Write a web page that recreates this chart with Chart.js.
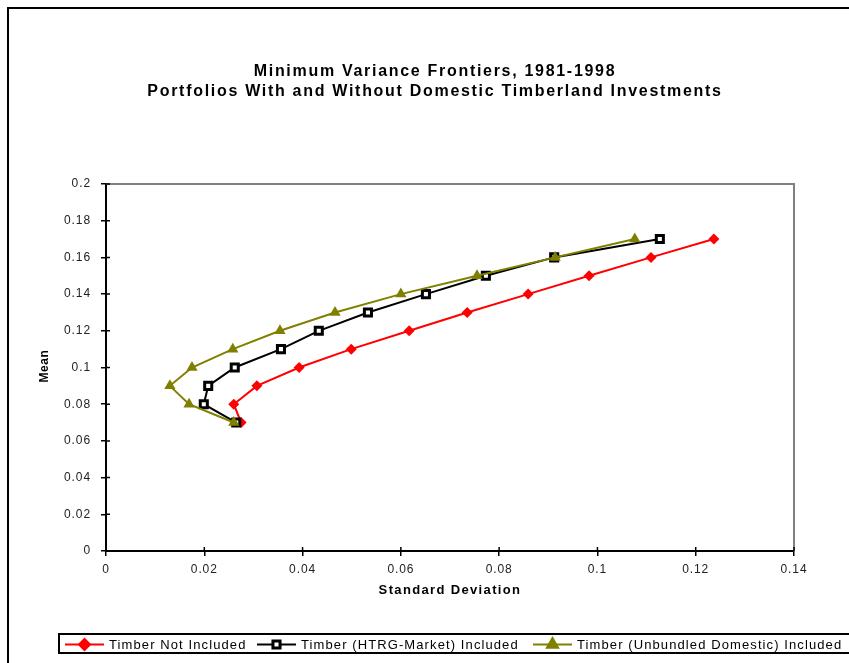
<!DOCTYPE html>
<html>
<head>
<meta charset="utf-8">
<script src="https://cdn.jsdelivr.net/npm/chart.js@4.4.1/dist/chart.umd.min.js"></script>
<style>
  html, body { margin: 0; padding: 0; background: #fff; }
  #wrap { width: 849px; height: 663px; }
</style>
</head>
<body>
<div id="wrap"><canvas id="frontier"></canvas></div>
<script>
// values: standard deviation (x) and mean (y)
const notIncludedSd = [0.0275, 0.026, 0.0307, 0.0393, 0.0499, 0.0617, 0.0735, 0.0859, 0.0983, 0.1109, 0.1237];
const notIncludedMean = [0.07, 0.08, 0.09, 0.10, 0.11, 0.12, 0.13, 0.14, 0.15, 0.16, 0.17];

const htrgSd = [0.0265, 0.0199, 0.0208, 0.0262, 0.0356, 0.0433, 0.0533, 0.0651, 0.0773, 0.0912, 0.1127];
const htrgMean = [0.07, 0.08, 0.09, 0.10, 0.11, 0.12, 0.13, 0.14, 0.15, 0.16, 0.17];

const unbundledSd = [0.026, 0.0169, 0.013, 0.0175, 0.0258, 0.0354, 0.0466, 0.060, 0.0755, 0.0914, 0.1076];
const unbundledMean = [0.07, 0.08, 0.09, 0.10, 0.11, 0.12, 0.13, 0.14, 0.15, 0.16, 0.17];

const seriesNames = [
	"Timber Not Included",
	"Timber (HTRG-Market) Included",
	"Timber (Unbundled Domestic) Included",
];
const titleLines = [
	"Minimum Variance Frontiers, 1981-1998",
	"Portfolios With and Without Domestic Timberland Investments",
];
const xTitle = "Standard Deviation";
const yTitle = "Mean";

const FONT = "'Liberation Sans', Arial, sans-serif";

function toPoints(xs, ys) {
	return xs.map((x, i) => ({ x: x, y: ys[i] }));
}

function tickText(v) {
	return String(Number(v.toFixed(2)));
}

// frame, titles, plot border, cross ticks and boxed legend
const decorPlugin = {
	id: "decor",
	beforeDraw(chart) {
		// tick labels in the original are a bit spaced out
		chart.ctx.letterSpacing = "0.9px";
	},
	beforeDatasetsDraw(chart) {
		const ctx = chart.ctx;
		const a = chart.chartArea;
		ctx.save();
		ctx.strokeStyle = "#808080";
		ctx.lineWidth = 2;
		ctx.beginPath();
		ctx.moveTo(a.left, a.top);
		ctx.lineTo(a.right, a.top);
		ctx.lineTo(a.right, a.bottom);
		ctx.stroke();

		// inner half of the crossing tick marks
		ctx.strokeStyle = "#000";
		ctx.lineWidth = 1.5;
		const xs = chart.scales.x;
		const ys = chart.scales.y;
		ctx.beginPath();
		xs.ticks.forEach((t) => {
			const px = xs.getPixelForValue(t.value);
			ctx.moveTo(px, a.bottom);
			ctx.lineTo(px, a.bottom - 4);
		});
		ys.ticks.forEach((t) => {
			const py = ys.getPixelForValue(t.value);
			ctx.moveTo(a.left, py);
			ctx.lineTo(a.left + 4, py);
		});
		ctx.stroke();
		ctx.restore();
	},
	afterDraw(chart) {
		const ctx = chart.ctx;
		ctx.save();

		// outer frame
		ctx.strokeStyle = "#000";
		ctx.lineWidth = 2;
		ctx.strokeRect(8, 8, 870, 680);

		// title
		ctx.fillStyle = "#000";
		ctx.textAlign = "center";
		ctx.textBaseline = "middle";
		ctx.font = "bold 16px " + FONT;
		ctx.letterSpacing = "1.7px";
		ctx.fillText(titleLines[0], 435, 72);
		ctx.fillText(titleLines[1], 435, 92);

		// axis titles
		ctx.font = "bold 13px " + FONT;
		ctx.letterSpacing = "1.35px";
		ctx.fillText(xTitle, 450, 590);
		ctx.save();
		ctx.translate(45, 366);
		ctx.rotate(-Math.PI / 2);
		ctx.font = "bold 12px " + FONT;
		ctx.letterSpacing = "0.6px";
		ctx.fillText(yTitle, 0, 0);
		ctx.restore();

		// legend
		ctx.lineWidth = 2;
		ctx.strokeStyle = "#000";
		ctx.strokeRect(59, 634, 820, 19);
		const legendX = [65, 257, 533];
		const lineLen = 39;
		ctx.font = "13px " + FONT;
		ctx.letterSpacing = "1.1px";
		ctx.textAlign = "left";
		chart.data.datasets.forEach((ds, i) => {
			const x0 = legendX[i];
			const y0 = 644.5;
			ctx.strokeStyle = ds.borderColor;
			ctx.lineWidth = 2;
			ctx.beginPath();
			ctx.moveTo(x0, y0);
			ctx.lineTo(x0 + lineLen, y0);
			ctx.stroke();
			Chart.helpers.drawPoint(ctx, {
				pointStyle: ds.pointStyle,
				radius: ds.pointRadius,
				borderWidth: ds.pointBorderWidth || 1,
				rotation: 0,
			}, x0 + lineLen / 2, y0);
			ctx.fillStyle = ds.pointBackgroundColor;
			ctx.strokeStyle = ds.pointBorderColor;
			ctx.lineWidth = ds.pointBorderWidth || 1;
			ctx.fill();
			if (ds.pointBorderWidth) ctx.stroke();
			ctx.fillStyle = "#000";
			ctx.fillText(ds.label, x0 + lineLen + 5, y0 + 0.5);
		});
		ctx.restore();
	},
};

const datasets = [
	{
		label: seriesNames[0],
		data: toPoints(notIncludedSd, notIncludedMean),
		borderColor: "#ff0000",
		backgroundColor: "#ff0000",
		pointBackgroundColor: "#ff0000",
		pointBorderColor: "#ff0000",
		pointStyle: "rectRot",
		pointRadius: 5.5,
		pointBorderWidth: 0,
		borderWidth: 2,
		order: 3,
	},
	{
		label: seriesNames[1],
		data: toPoints(htrgSd, htrgMean),
		borderColor: "#000000",
		backgroundColor: "#000000",
		pointBackgroundColor: "#ffffff",
		pointBorderColor: "#000000",
		pointStyle: "rect",
		pointRadius: 5,
		pointBorderWidth: 3,
		borderWidth: 2,
		order: 2,
	},
	{
		label: seriesNames[2],
		data: toPoints(unbundledSd, unbundledMean),
		borderColor: "#808000",
		backgroundColor: "#808000",
		pointBackgroundColor: "#808000",
		pointBorderColor: "#808000",
		pointStyle: "triangle",
		pointRadius: 6.5,
		pointBorderWidth: 0,
		borderWidth: 2,
		order: 1,
	},
];

new Chart(document.getElementById("frontier").getContext("2d"), {
	type: "scatter",
	data: { datasets: datasets },
	options: {
		responsive: true,
		maintainAspectRatio: false,
		animation: false,
		showLine: true,
		layout: {
			padding: { left: 0, top: 184, right: 55, bottom: 72 },
		},
		elements: {
			line: { tension: 0 },
		},
		scales: {
			x: {
				type: "linear",
				min: 0,
				max: 0.14,
				afterFit(scale) {
					scale.height = 40;
				},
				border: { color: "#000", width: 2 },
				grid: {
					drawOnChartArea: false,
					drawTicks: true,
					tickLength: 5,
					color: "#000",
					lineWidth: 1.5,
				},
				ticks: {
					stepSize: 0.02,
					padding: 6,
					color: "#222",
					font: { family: FONT, size: 12 },
					maxRotation: 0,
					callback: (v) => tickText(v),
				},
			},
			y: {
				type: "linear",
				min: 0,
				max: 0.2,
				afterFit(scale) {
					scale.width = 106;
				},
				border: { color: "#000", width: 2 },
				grid: {
					drawOnChartArea: false,
					drawTicks: true,
					tickLength: 5,
					color: "#000",
					lineWidth: 1.5,
				},
				ticks: {
					stepSize: 0.02,
					padding: 10,
					color: "#222",
					font: { family: FONT, size: 12 },
					callback: (v) => tickText(v),
				},
			},
		},
		plugins: {
			legend: { display: false },
			title: { display: false },
			tooltip: { enabled: false },
		},
	},
	plugins: [decorPlugin],
});
</script>
</body>
</html>
